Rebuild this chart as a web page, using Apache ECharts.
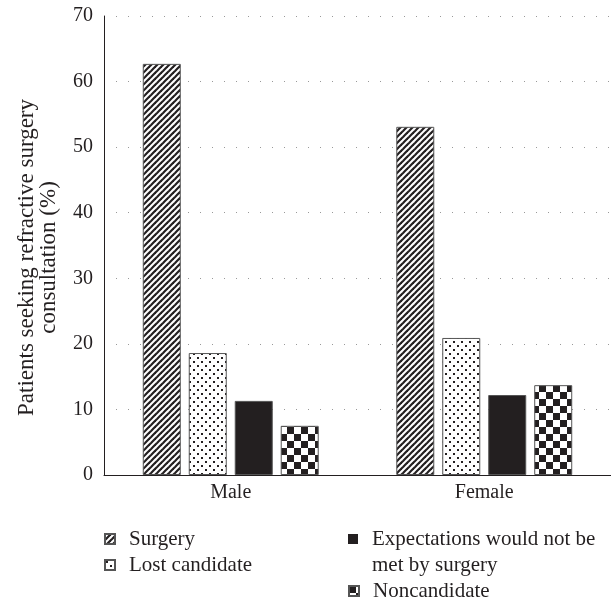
<!DOCTYPE html>
<html><head><meta charset="utf-8">
<script src="https://cdn.jsdelivr.net/npm/echarts@6/dist/echarts.min.js"></script>
<style>html,body{margin:0;padding:0;background:#fff}#c{width:611px;height:598px}</style>
</head><body><div id="c"></div>
<script>
var categories = ['Male', 'Female'];
var seriesNames = ['Surgery', 'Lost candidate', 'Expectations would not be\nmet by surgery', 'Noncandidate'];
var surgery = [62.7, 53.1];
var lostCandidate = [18.6, 20.9];
var expectations = [11.3, 12.2];
var noncandidate = [7.5, 13.7];

function mk(w, h, draw) {
  var c = document.createElement('canvas'); c.width = w; c.height = h;
  var g = c.getContext('2d'); g.fillStyle = '#fff'; g.fillRect(0, 0, w, h); draw(g); return c;
}
var stripes = mk(6, 6, function (g) {
  g.strokeStyle = '#231f20'; g.lineWidth = 2.2;
  for (var k = -2; k <= 2; k++) { g.beginPath(); g.moveTo(k * 6 - 1, 7); g.lineTo(k * 6 + 7, -1); g.stroke(); }
});
var dots = mk(8, 8, function (g) {
  g.fillStyle = '#231f20'; g.fillRect(1, 1, 2, 2); g.fillRect(5, 5, 2, 2);
});
var checks = mk(14, 14, function (g) {
  g.fillStyle = '#231f20'; g.fillRect(0, 0, 7, 7); g.fillRect(7, 7, 7, 7);
});
var fills = [
  { image: stripes, repeat: 'repeat' },
  { image: dots, repeat: 'repeat' },
  '#231f20',
  { image: checks, repeat: 'repeat' }
];
var values = [surgery, lostCandidate, expectations, noncandidate];
var font = 'Liberation Serif';
var ink = '#231f20';
var LFS = 21;

function legend(names, left, top, icon, ih, noBorder) {
  var l = {
    left: left, top: top, orient: 'vertical', padding: 0, itemGap: 0,
    itemWidth: 10, itemHeight: ih || 10, icon: icon || 'rect', data: names,
    textStyle: { fontFamily: font, fontSize: LFS, color: ink, lineHeight: 26, padding: [0, 0, 0, 9] }
  };
  if (noBorder) l.itemStyle = { borderWidth: 0 };
  return l;
}

var chart = echarts.init(document.getElementById('c'), null, { renderer: 'canvas' });
chart.setOption({
  animation: false,
  textStyle: { fontFamily: font },
  grid: { left: 104, right: 0, top: 16, bottom: 123, outerBoundsMode: 'none', containLabel: false },
  legend: [
    legend([seriesNames[0], seriesNames[1]], 104, 526),
    legend([seriesNames[2]], 348, 526, 'path://M0,0h10v10h-10z M0,36h0.01', 36, true),
    legend([seriesNames[3]], 348, 578)
  ],
  xAxis: {
    type: 'category', data: categories,
    axisLine: { lineStyle: { color: ink, width: 1 } },
    axisTick: { show: false },
    axisLabel: { fontFamily: font, fontSize: 20, color: ink, margin: 8 }
  },
  yAxis: {
    type: 'value', min: 0, max: 70, interval: 10,
    name: 'Patients seeking refractive surgery\nconsultation (%)',
    nameLocation: 'middle', nameGap: 44, nameRotate: 90,
    nameTextStyle: { fontFamily: font, fontSize: 23, color: ink, lineHeight: 22, padding: [0, 24, 0, 0] },
    axisLine: { show: true, lineStyle: { color: ink, width: 1 } },
    axisTick: { show: false },
    axisLabel: { fontFamily: font, fontSize: 20, color: ink, margin: 11 },
    splitLine: { show: true, lineStyle: { color: '#999', type: [1, 11], width: 1.2 } }
  },
  series: values.map(function (v, i) {
    return {
      name: seriesNames[i], type: 'bar', data: v,
      barWidth: 38, barGap: '21%',
      itemStyle: { color: fills[i], borderColor: '#555', borderWidth: 1 }
    };
  })
});
</script></body></html>
